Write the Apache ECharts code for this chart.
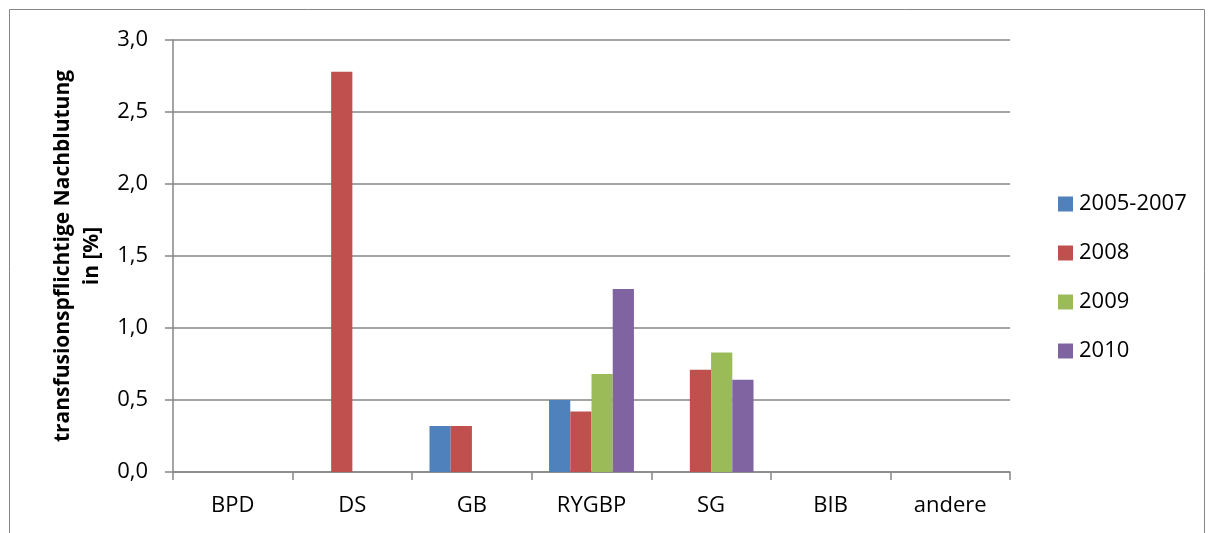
<!DOCTYPE html>
<html>
<head>
<meta charset="utf-8">
<script src="https://cdn.jsdelivr.net/npm/echarts@6/dist/echarts.min.js"></script>
<style>
  html, body { margin: 0; padding: 0; background: #fff; }
  #chart { width: 1214px; height: 533px; }
</style>
</head>
<body>
<div id="chart"></div>
<script>
// Kategorien (Operationsverfahren)
const categories = ['BPD', 'DS', 'GB', 'RYGBP', 'SG', 'BIB', 'andere'];
// Zeiträume
const seriesNames = ['2005-2007', '2008', '2009', '2010'];
// Transfusionspflichtige Nachblutung in % je Zeitraum
const v2005_2007 = [0, 0, 0.32, 0.50, 0, 0, 0];
const v2008      = [0, 2.78, 0.32, 0.42, 0.71, 0, 0];
const v2009      = [0, 0, 0, 0.68, 0.83, 0, 0];
const v2010      = [0, 0, 0, 1.27, 0.64, 0, 0];
const yTicks = [0, 0.5, 1.0, 1.5, 2.0, 2.5, 3.0];

const colors = ['#4F81BD', '#C0504D', '#9BBB59', '#8064A2'];
const values = [v2005_2007, v2008, v2009, v2010];
const font = '"Open Sans", Lato, sans-serif';

const chart = echarts.init(document.getElementById('chart'));
chart.setOption({
  animation: false,
  backgroundColor: '#ffffff',
  color: colors,
  graphic: [{
    type: 'rect',
    shape: { x: 9.5, y: 9.5, width: 1195, height: 540 },
    style: { fill: 'none', stroke: '#868686', lineWidth: 1 },
    silent: true
  }],
  grid: { left: 173, right: 204, top: 40, bottom: 61, containLabel: false },
  legend: {
    orient: 'vertical',
    left: 1053,
    top: 188,
    itemWidth: 15,
    itemHeight: 15,
    itemGap: 27,
    icon: 'rect',
    textStyle: { fontFamily: font, fontSize: 22, color: '#000', padding: [0, 0, 0, 1] },
    data: seriesNames
  },
  xAxis: {
    type: 'category',
    data: categories,
    axisLine: { lineStyle: { color: '#868686', width: 1.5 } },
    axisTick: { show: true, length: 8, lineStyle: { color: '#868686', width: 1.5 } },
    axisLabel: { fontFamily: font, fontSize: 22, color: '#000', margin: 23 }
  },
  yAxis: {
    type: 'value',
    min: 0,
    max: 3,
    interval: 0.5,
    name: 'transfusionspflichtige Nachblutung\nin [%]',
    nameLocation: 'middle',
    nameGap: 66,
    nameTextStyle: { fontFamily: font, fontSize: 21, fontWeight: 'bold', color: '#000', lineHeight: 29 },
    axisLine: { show: true, lineStyle: { color: '#868686', width: 1.5 } },
    axisTick: { show: true, length: 8, lineStyle: { color: '#868686', width: 1.5 } },
    splitLine: { lineStyle: { color: '#868686', width: 1.5 } },
    axisLabel: {
      fontFamily: font, fontSize: 22, color: '#000', margin: 25,
      formatter: v => yTicks.includes(v) ? v.toFixed(1).replace('.', ',') : ''
    }
  },
  series: seriesNames.map((name, i) => ({
    name,
    type: 'bar',
    data: values[i],
    barGap: '0%',
    barCategoryGap: '29%',
    itemStyle: { color: colors[i], borderWidth: 0 }
  }))
});
</script>
</body>
</html>
